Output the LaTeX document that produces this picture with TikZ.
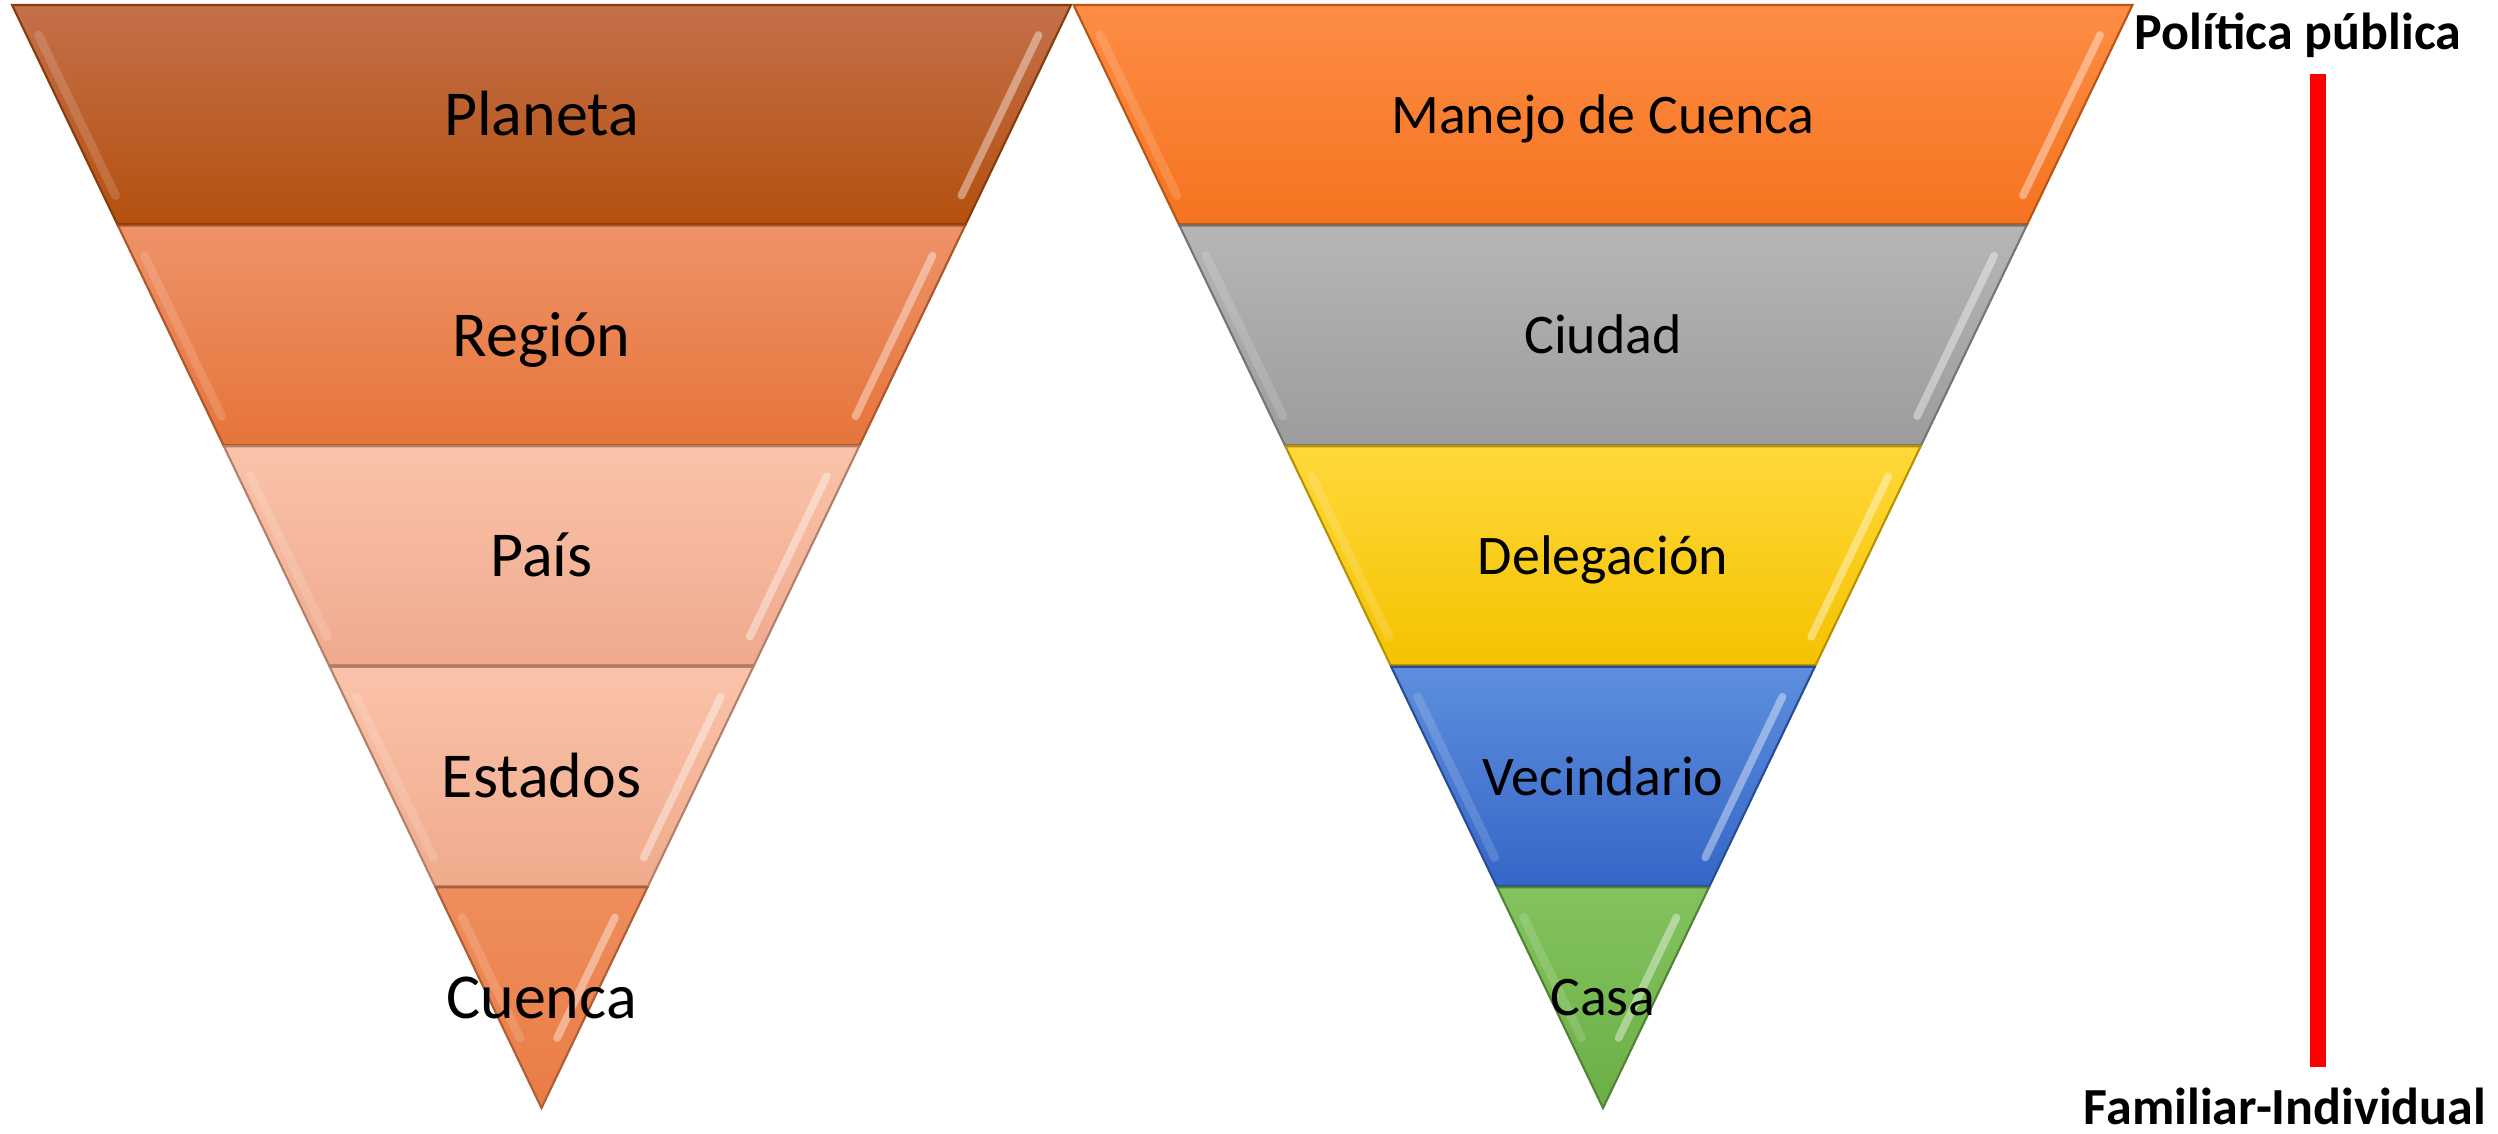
\documentclass[tikz,border=0pt]{standalone}
\usepackage{fontspec}
\setmainfont{Carlito}
\definecolor{planT}{HTML}{C4704A}\definecolor{planB}{HTML}{B4500F}
\definecolor{regT}{HTML}{EE9268}\definecolor{regB}{HTML}{E6743A}
\definecolor{paisT}{HTML}{FAC3A9}\definecolor{paisB}{HTML}{EFA98D}
\definecolor{estT}{HTML}{FAC3A9}\definecolor{estB}{HTML}{F0AA8C}
\definecolor{cueT}{HTML}{EE8E5C}\definecolor{cueB}{HTML}{EA7C45}
\definecolor{manT}{HTML}{FD8D45}\definecolor{manB}{HTML}{F5731F}
\definecolor{ciuT}{HTML}{B6B6B6}\definecolor{ciuB}{HTML}{9C9C9C}
\definecolor{delT}{HTML}{FFD83A}\definecolor{delB}{HTML}{F5C200}
\definecolor{vecT}{HTML}{5E8EDC}\definecolor{vecB}{HTML}{3566C8}
\definecolor{casT}{HTML}{82C35E}\definecolor{casB}{HTML}{6CAF45}
\tikzset{
  shine/.style={white, opacity=0.4, line width=2.2pt, line cap=round},
  shineleft/.style={white, opacity=0.15, line width=2.5pt, line cap=round},
  bandfloor/.style={black, opacity=0.22, line width=1.4pt},
  titlelab/.style={font=\fontsize{14.8}{18}\selectfont\bfseries, inner sep=0pt, anchor=base},
  scalebar/.style={red, line width=4.55pt}
}
% #1 cx, #2 index, #3 top colour, #4 bottom colour, #5 label, #6 node name, #7 font size, #8 baseline offset
\newcommand\drawband[8]{%
  \pgfmathsetmacro\ya{5+220.6*#2}%
  \pgfmathsetmacro\yb{5+220.6*(#2+1)}%
  \pgfmathsetmacro\ha{0.48*(1108-\ya)}%
  \pgfmathsetmacro\hb{0.48*(1108-\yb)}%
  \pgfmathsetmacro\ym{(\ya+\yb)/2}%
  \shade[top color=#3, bottom color=#4, draw=#4!75!black, line width=0.6pt]
    (#1-\ha,\ya) -- (#1+\ha,\ya) -- (#1+\hb,\yb) -- (#1-\hb,\yb) -- cycle;
  \pgfmathsetmacro\ta{\ya+30}%
  \pgfmathsetmacro\tb{\yb-(#2==4 ? 70 : 30)}%
  \pgfmathsetmacro\hta{0.48*(1108-\ta)-18}%
  \pgfmathsetmacro\htb{0.48*(1108-\tb)-18}%
  \draw[shine] (#1+\hta,\ta) -- (#1+\htb,\tb);
  \draw[shineleft] (#1-\hta-6,\ta) -- (#1-\htb-6,\tb);
  \draw[bandfloor] (#1-\hb,\yb) -- (#1+\hb,\yb);
  \node[font=\fontsize{#7}{#7}\selectfont, inner sep=0pt, anchor=base] (#6) at (#1,\ym+#8) {#5};
}
\begin{document}
\begin{tikzpicture}[x=0.01cm,y=-0.01cm]
\useasboundingbox (0,0) rectangle (2498,1134);
% left triangle
\drawband{541.5}{0}{planT}{planB}{Planeta}{planeta}{18.2}{20.5}
\drawband{541.5}{1}{regT}{regB}{Región}{region}{18.2}{20.5}
\drawband{541.5}{2}{paisT}{paisB}{País}{pais}{18.2}{20.5}
\drawband{541.5}{3}{estT}{estB}{Estados}{estados}{18.2}{20.5}
\drawband{541.5}{4}{cueT}{cueB}{Cuenca}{cuenca}{18.2}{20.5}
% right triangle
\drawband{1603}{0}{manT}{manB}{Manejo de Cuenca}{manejo}{15.9}{18}
\drawband{1603}{1}{ciuT}{ciuB}{Ciudad}{ciudad}{15.9}{18}
\drawband{1603}{2}{delT}{delB}{Delegación}{delegacion}{15.9}{18}
\drawband{1603}{3}{vecT}{vecB}{Vecindario}{vecindario}{15.9}{18}
\drawband{1603}{4}{casT}{casB}{Casa}{casa}{15.9}{18}
% scale
\node[titlelab] (polit) at (2298,50) {Política pública};
\node[titlelab] (famil) at (2285,1124) {Familiar-Individual};
\coordinate (bartop) at (2318,74);
\coordinate (barbot) at (2318,1067);
\draw[scalebar] (bartop) -- (barbot);
\end{tikzpicture}
\end{document}
